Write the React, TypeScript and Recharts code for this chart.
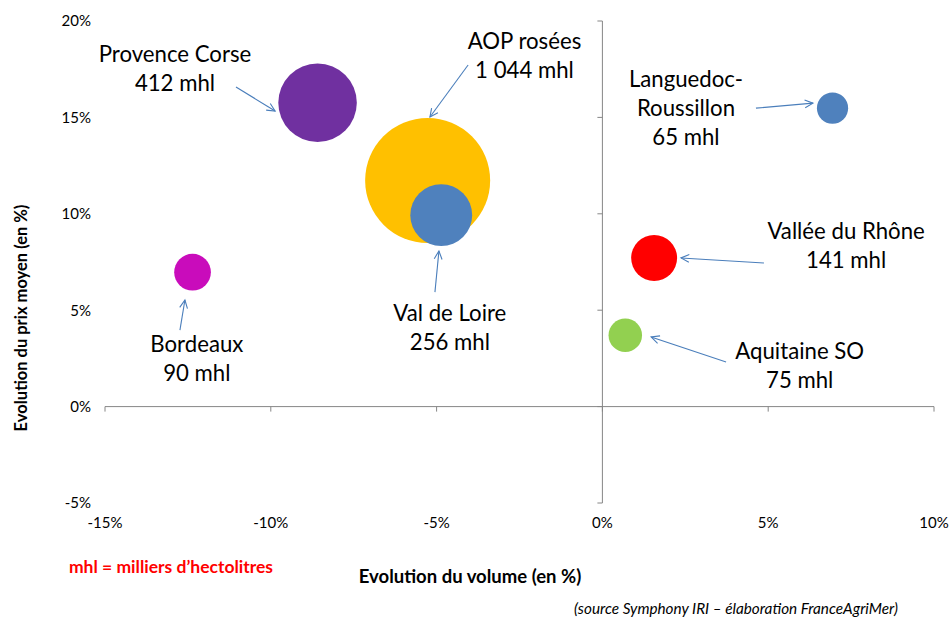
import React from 'react';
import { ScatterChart, Scatter, XAxis, YAxis, ZAxis, ReferenceLine, ReferenceDot } from 'recharts';

const categories = ['Provence Corse', 'AOP rosées', 'Val de Loire', 'Bordeaux', 'Languedoc-Roussillon', 'Vallée du Rhône', 'Aquitaine SO'];
const volumeChange = [-8.59, -5.27, -4.86, -12.36, 6.94, 1.56, 0.69];
const priceChange = [15.76, 11.73, 9.93, 6.97, 15.48, 7.71, 3.7];
const volumes = [412, 1044, 256, 90, 65, 141, 75];
const colors = ['#7030A0', '#FFC000', '#4F81BD', '#C90CBB', '#4F81BD', '#FF0000', '#92D050'];

const labelLines = [
  ['Provence Corse', '412 mhl'],
  ['AOP rosées', '1 044 mhl'],
  ['Val de Loire', '256 mhl'],
  ['Bordeaux', '90 mhl'],
  ['Languedoc-', 'Roussillon', '65 mhl'],
  ['Vallée du Rhône', '141 mhl'],
  ['Aquitaine SO', '75 mhl'],
];
const labelX = [-12.89, -2.35, -4.6, -12.23, 2.52, 7.35, 5.95];
const labelY = [17.61, 18.28, 4.13, 2.57, 15.54, 8.43, 2.16];

const arrowStartX = [-11.05, -4.05, -5.05, -12.74, 4.63, 4.87, 3.73];
const arrowStartY = [16.58, 17.72, 5.94, 3.97, 15.48, 7.45, 2.31];
const arrowEndX = [-9.87, -5.2, -4.93, -12.59, 6.35, 2.37, 1.47];
const arrowEndY = [15.33, 15.02, 8.07, 5.53, 15.74, 7.71, 3.61];

const xDomain = [-15, 10];
const yDomain = [-5, 20];
const xTicks = [-15, -10, -5, 0, 5, 10];
const yTicks = [-5, 0, 5, 10, 15, 20];

const FONT = 'Lato, "Open Sans", sans-serif';
const AXIS_COLOR = '#868686';
const ARROW_COLOR = '#4A7EBB';

const HAxisShape = (p: any) => {
  const { x1, x2, y1 } = p;
  const lo = Math.min(x1, x2);
  const hi = Math.max(x1, x2);
  return (
    <g>
      <line x1={lo} x2={hi} y1={y1} y2={y1} stroke={AXIS_COLOR} strokeWidth={1} />
      {xTicks.map((t) => {
        const x = lo + ((t - xDomain[0]) / (xDomain[1] - xDomain[0])) * (hi - lo);
        return <line key={t} x1={x} x2={x} y1={y1} y2={y1 + 5} stroke={AXIS_COLOR} strokeWidth={1} />;
      })}
    </g>
  );
};

const VAxisShape = (p: any) => {
  const { x1, y1, y2 } = p;
  const top = Math.min(y1, y2);
  const bot = Math.max(y1, y2);
  return (
    <g>
      <line x1={x1} x2={x1} y1={top} y2={bot} stroke={AXIS_COLOR} strokeWidth={1} />
      {yTicks.map((t) => {
        const y = bot - ((t - yDomain[0]) / (yDomain[1] - yDomain[0])) * (bot - top);
        return <line key={t} x1={x1 - 5} x2={x1} y1={y} y2={y} stroke={AXIS_COLOR} strokeWidth={1} />;
      })}
    </g>
  );
};

const ArrowShape = (p: any) => {
  const { x1, y1, x2, y2 } = p;
  const ang = Math.atan2(y2 - y1, x2 - x1);
  const len = 9;
  const spread = 0.45;
  const ax = x2 - len * Math.cos(ang - spread);
  const ay = y2 - len * Math.sin(ang - spread);
  const bx = x2 - len * Math.cos(ang + spread);
  const by = y2 - len * Math.sin(ang + spread);
  return (
    <g>
      <line x1={x1} y1={y1} x2={x2} y2={y2} stroke={ARROW_COLOR} strokeWidth={1.1} />
      <polyline points={`${ax},${ay} ${x2},${y2} ${bx},${by}`} fill="none" stroke={ARROW_COLOR} strokeWidth={1.1} />
    </g>
  );
};

const makeLabel = (lines: string[]) => (p: any) => {
  const { cx, cy } = p;
  const lh = 29;
  const first = cy - ((lines.length - 1) * lh) / 2;
  return (
    <text x={cx} y={first} textAnchor="middle" dominantBaseline="central" fontFamily={FONT} fontSize={22.2} fill="#000">
      {lines.map((l, i) => (
        <tspan key={i} x={cx} y={first + i * lh} dominantBaseline="central">{l}</tspan>
      ))}
    </text>
  );
};

const fmt = (v: number) => `${v}%`;

export default function App() {
  return (
    <div style={{ position: 'fixed', left: 0, top: 0, width: 950, height: 617, fontFamily: FONT, background: '#fff' }}>
      <ScatterChart width={950} height={617} margin={{ top: 21, right: 16, bottom: 84, left: 45 }} style={{ overflow: 'visible' }}>
        <XAxis
          type="number"
          dataKey="x"
          domain={xDomain}
          ticks={xTicks}
          tickFormatter={fmt}
          axisLine={false}
          tickLine={false}
          height={30}
          tickMargin={8}
          tick={{ fill: '#000', fontSize: 15, fontFamily: FONT }}
          allowDataOverflow
        />
        <YAxis
          type="number"
          dataKey="y"
          domain={yDomain}
          ticks={yTicks}
          tickFormatter={fmt}
          axisLine={false}
          tickLine={false}
          width={60}
          tickMargin={8}
          tick={{ fill: '#000', fontSize: 15, fontFamily: FONT }}
          allowDataOverflow
        />
        <ZAxis type="number" dataKey="z" domain={[0, 1044]} range={[0, 12272]} />
        <ReferenceLine y={0} shape={HAxisShape} ifOverflow="visible" />
        <ReferenceLine x={0} shape={VAxisShape} ifOverflow="visible" />
        {categories.map((c, i) => (
          <Scatter
            key={c}
            name={c}
            data={[{ x: volumeChange[i], y: priceChange[i], z: volumes[i] }]}
            fill={colors[i]}
            isAnimationActive={false}
          />
        ))}
        {categories.map((c, i) => (
          <ReferenceLine
            key={'a' + c}
            segment={[{ x: arrowStartX[i], y: arrowStartY[i] }, { x: arrowEndX[i], y: arrowEndY[i] }]}
            shape={ArrowShape}
            ifOverflow="visible"
          />
        ))}
        {categories.map((c, i) => (
          <ReferenceDot
            key={'l' + c}
            x={labelX[i]}
            y={labelY[i]}
            r={1}
            shape={makeLabel(labelLines[i])}
            ifOverflow="visible"
          />
        ))}
      </ScatterChart>
      <div style={{ position: 'absolute', left: 470, top: 576, transform: 'translate(-50%, -50%)', whiteSpace: 'nowrap', fontWeight: 'bold', fontSize: 18.5, color: '#000' }}>
        Evolution du volume (en %)
      </div>
      <div style={{ position: 'absolute', left: 21, top: 318, transform: 'translate(-50%, -50%) rotate(-90deg)', whiteSpace: 'nowrap', fontWeight: 'bold', fontSize: 16.5, color: '#000' }}>
        Evolution du prix moyen (en %)
      </div>
      <div style={{ position: 'absolute', left: 171, top: 566, transform: 'translate(-50%, -50%)', whiteSpace: 'nowrap', fontWeight: 'bold', fontSize: 17.5, color: '#FF0000' }}>
        mhl = milliers d’hectolitres
      </div>
      <div style={{ position: 'absolute', left: 736, top: 608, transform: 'translate(-50%, -50%)', whiteSpace: 'nowrap', fontStyle: 'italic', fontSize: 15.3, color: '#000' }}>
        (source Symphony IRI – élaboration FranceAgriMer)
      </div>
    </div>
  );
}
